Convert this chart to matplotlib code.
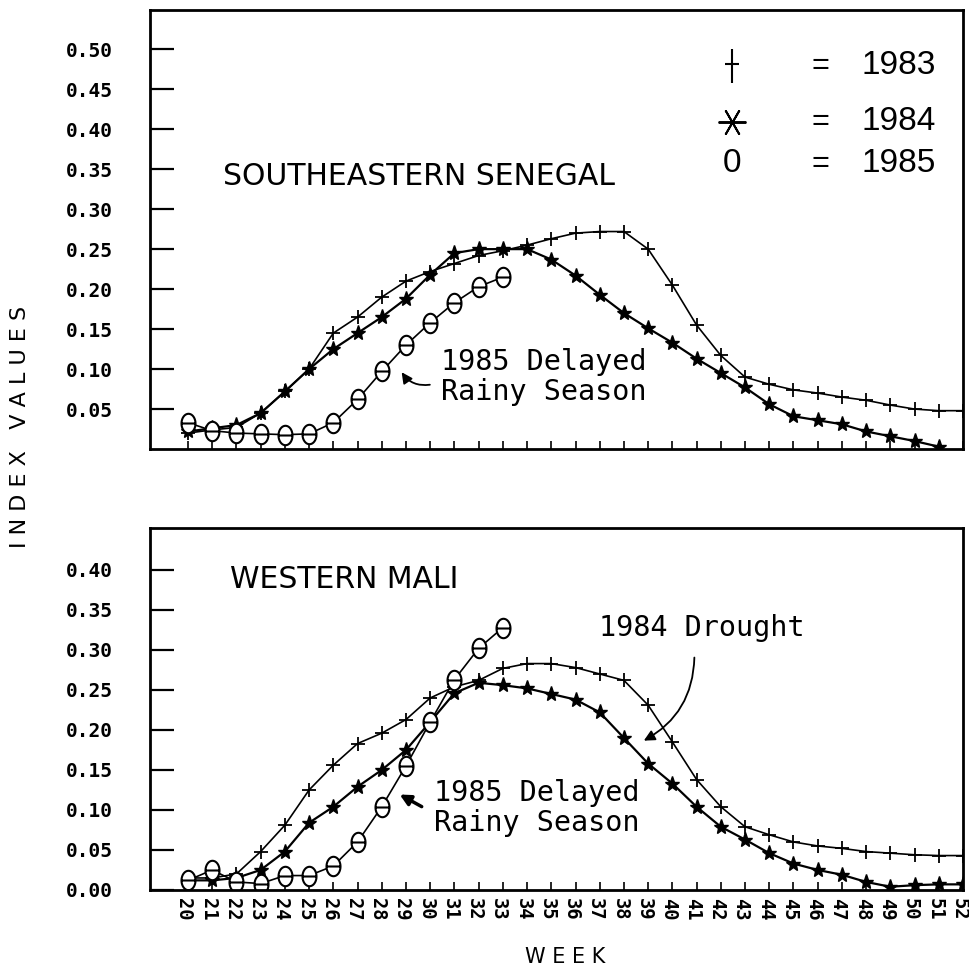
import numpy as np
import matplotlib
matplotlib.use("Agg")
import matplotlib.pyplot as plt
import matplotlib.transforms as mtransforms
from matplotlib.path import Path

nan = np.nan
weeks = list(range(20, 53))

# Southeastern Senegal (top panel)
sen_1983 = [0.020, 0.024, 0.027, 0.045, 0.072, 0.100, 0.145, 0.165, 0.190, 0.210,
            0.222, 0.232, 0.242, 0.248, 0.255, 0.263, 0.270, 0.272, 0.272, 0.250,
            0.205, 0.155, 0.117, 0.090, 0.081, 0.074, 0.070, 0.065, 0.061, 0.055,
            0.050, 0.048, 0.048]
sen_1984 = [0.022, 0.026, 0.030, 0.045, 0.072, 0.100, 0.125, 0.145, 0.165, 0.188,
            0.218, 0.245, 0.250, 0.250, 0.250, 0.237, 0.217, 0.193, 0.170, 0.151,
            0.133, 0.113, 0.095, 0.077, 0.056, 0.041, 0.036, 0.031, 0.022, 0.016,
            0.010, 0.003, nan]
sen_1985 = [0.033, 0.023, 0.020, 0.019, 0.018, 0.019, 0.033, 0.062, 0.097, 0.130,
            0.158, 0.183, 0.203, 0.215] + [nan] * 19

# Western Mali (bottom panel)
mali_1983 = [0.015, 0.015, 0.020, 0.048, 0.081, 0.125, 0.156, 0.183, 0.196, 0.213,
             0.240, 0.254, 0.262, 0.277, 0.283, 0.283, 0.278, 0.270, 0.262, 0.231,
             0.185, 0.138, 0.104, 0.079, 0.069, 0.060, 0.055, 0.052, 0.048, 0.046,
             0.044, 0.043, 0.043]
mali_1984 = [0.012, 0.012, 0.015, 0.025, 0.048, 0.084, 0.104, 0.129, 0.150, 0.175,
             0.210, 0.246, 0.259, 0.256, 0.252, 0.245, 0.238, 0.222, 0.190, 0.158,
             0.133, 0.104, 0.079, 0.063, 0.046, 0.033, 0.025, 0.019, 0.010, 0.004,
             0.006, 0.007, 0.007]
mali_1985 = [0.012, 0.025, 0.010, 0.008, 0.018, 0.018, 0.030, 0.060, 0.104, 0.155,
             0.210, 0.263, 0.302, 0.328] + [nan] * 19

sen_yticks = [0.05, 0.10, 0.15, 0.20, 0.25, 0.30, 0.35, 0.40, 0.45, 0.50]
mali_yticks = [0.00, 0.05, 0.10, 0.15, 0.20, 0.25, 0.30, 0.35, 0.40]

# "0" marker with a bar through it, as drawn on the plotter
t = np.linspace(0, 2 * np.pi, 41)
verts = [(0.36 * np.cos(a), 0.5 * np.sin(a)) for a in t] + [(-0.36, 0), (0.36, 0)]
codes = [Path.MOVETO] + [Path.LINETO] * 39 + [Path.CLOSEPOLY] + [Path.MOVETO, Path.LINETO]
theta_marker = Path(verts, codes)
# tall thin plus for the key
tall_plus = Path([(0, -0.5), (0, 0.5), (-0.2, 0.05), (0.2, 0.05)],
                 [Path.MOVETO, Path.LINETO, Path.MOVETO, Path.LINETO])

plt.rcParams['font.family'] = 'DejaVu Sans'
mono = 'DejaVu Sans Mono'

fig = plt.figure(figsize=(9.7, 9.72), dpi=100)
ax1 = fig.add_axes([0.1546, 0.538, 0.8382, 0.4517])
ax2 = fig.add_axes([0.1546, 0.0844, 0.8382, 0.3724])


def draw(ax, s83, s84, s85):
    ax.plot(weeks, s83, color='black', lw=1.2, marker='+', ms=10, mew=1.3)
    ax.plot(weeks, s84, color='black', lw=1.6, marker='*', ms=11)
    ax.plot(weeks, s85, color='black', lw=1.2, marker=theta_marker, ms=14,
            mfc='white', mec='black', mew=1.5)
    ax.set_xlim(18.43, 52.0)
    for s in ax.spines.values():
        s.set_linewidth(2)
    ax.set_xticks(weeks)
    ax.tick_params(axis='x', direction='in', length=6, width=1.2)
    ax.tick_params(axis='y', direction='in', length=17, width=1.6, pad=27)


draw(ax1, sen_1983, sen_1984, sen_1985)
draw(ax2, mali_1983, mali_1984, mali_1985)

ax1.set_ylim(0, 0.549)
ax1.set_yticks(sen_yticks, [f"{v:.2f}" for v in sen_yticks],
               fontfamily=mono, fontweight='bold', fontsize=14)
ax1.set_xticklabels([])

ax2.set_ylim(0, 0.4525)
ax2.set_yticks(mali_yticks, [f"{v:.2f}" for v in mali_yticks],
               fontfamily=mono, fontweight='bold', fontsize=14)
ax2.set_xticklabels([str(w) for w in weeks], rotation=-90,
                    fontfamily=mono, fontweight='bold', fontsize=13.5)
ax2.tick_params(axis='x', pad=6)
shift = mtransforms.ScaledTranslation(-4 / 100, 0, fig.dpi_scale_trans)
for lab in ax2.get_xticklabels():
    lab.set_transform(lab.get_transform() + shift)

# titles inside panels
ax1.text(21.45, 0.341, "SOUTHEASTERN SENEGAL", fontsize=21.5, va='center', ha='left')
ax2.text(21.75, 0.388, "WESTERN MALI", fontsize=21.5, va='center', ha='left')

# key drawn as plotter text
leg_y = [0.479, 0.409, 0.357]
ax1.plot([42.45], [leg_y[0]], marker=tall_plus, ms=24, mew=1.5, color='black')
ax1.plot([42.45], [leg_y[1]], marker=(6, 2, 90), ms=20, mew=1.4, color='black')
ax1.text(42.45, leg_y[2], "0", fontsize=24, family='Liberation Sans',
         ha='center', va='center')
for yy, yr in zip(leg_y, ["1983", "1984", "1985"]):
    ax1.text(46.1, yy, "=", fontsize=22, family='Liberation Sans',
             ha='center', va='center')
    ax1.text(47.8, yy, yr, fontsize=24, family='Liberation Sans',
             ha='left', va='center')

# annotations
ax1.text(30.45, 0.1088, "1985 Delayed", fontsize=20.5, family=mono, va='center')
ax1.text(30.45, 0.0713, "Rainy Season", fontsize=20.5, family=mono, va='center')
ax1.annotate("", xy=(28.76, 0.099), xytext=(30.1, 0.081),
             arrowprops=dict(arrowstyle='-|>', color='black', lw=1.3,
                             connectionstyle='arc3,rad=-0.35', mutation_scale=16))

ax2.text(30.15, 0.121, "1985 Delayed", fontsize=20.5, family=mono, va='center')
ax2.text(30.15, 0.0835, "Rainy Season", fontsize=20.5, family=mono, va='center')
ax2.annotate("", xy=(28.64, 0.121), xytext=(29.75, 0.1025),
             arrowprops=dict(arrowstyle='-|>', color='black', lw=2.5,
                             mutation_scale=16))

ax2.text(36.95, 0.328, "1984 Drought", fontsize=20.5, family=mono, va='center')
ax2.annotate("", xy=(38.72, 0.185), xytext=(40.91, 0.294),
             arrowprops=dict(arrowstyle='-|>', color='black', lw=1.3,
                             connectionstyle='arc3,rad=-0.3', mutation_scale=16))

fig.text(0.021, 0.561, "I N D E X   V A L U E S", rotation=90, fontsize=16,
         ha='center', va='center')
fig.text(0.583, 0.0155, "W E E K", fontsize=15, ha='center', va='center')

fig.savefig("out.png", dpi=100)
